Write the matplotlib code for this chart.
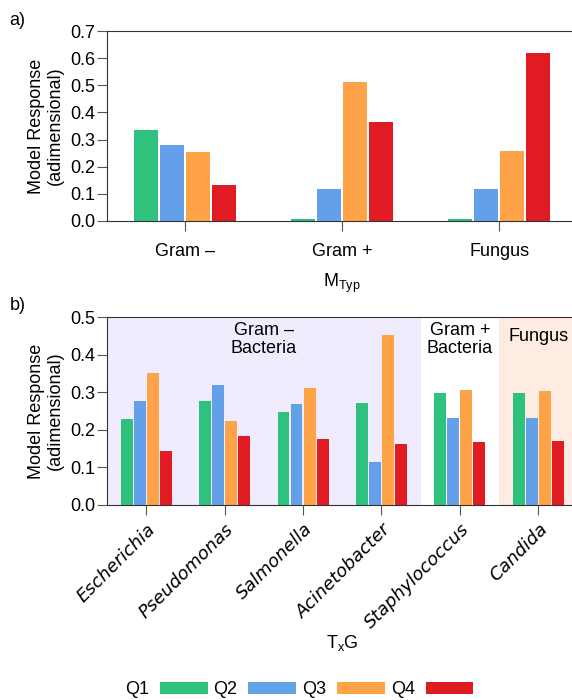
import matplotlib
matplotlib.use("Agg")
import matplotlib.pyplot as plt
import numpy as np
from matplotlib.patches import Patch

plt.rcParams['font.family'] = ['Liberation Sans', 'DejaVu Sans']
plt.rcParams['font.size'] = 13

# panel a: response by microorganism type
types = ["Gram \u2013", "Gram +", "Fungus"]
q1_typ = [0.335, 0.006, 0.006]
q2_typ = [0.280, 0.118, 0.118]
q3_typ = [0.254, 0.512, 0.258]
q4_typ = [0.133, 0.365, 0.619]

# panel b: response by genus
genera = ["Escherichia", "Pseudomonas", "Salmonella", "Acinetobacter",
          "Staphylococcus", "Candida"]
q1_gen = [0.229, 0.277, 0.247, 0.271, 0.298, 0.298]
q2_gen = [0.277, 0.319, 0.269, 0.114, 0.231, 0.231]
q3_gen = [0.351, 0.223, 0.311, 0.452, 0.306, 0.303]
q4_gen = [0.144, 0.184, 0.176, 0.162, 0.168, 0.170]

quartiles = ["Q1", "Q2", "Q3", "Q4"]
colors = ["#2ec27e", "#62a0ea", "#ffa348", "#e01b24"]

step = 0.166
bar_w = step * 0.92
spine_col = "#333333"


def grouped_bars(ax, series, n):
    x = np.arange(n)
    for i, vals in enumerate(series):
        ax.bar(x + (i - 1.5) * step, vals, width=bar_w, color=colors[i],
               linewidth=0, zorder=2)
    ax.set_xlim(-0.5, n - 0.5)
    ax.set_xticks(x)
    ax.spines['right'].set_visible(False)
    for s in ['left', 'top', 'bottom']:
        ax.spines[s].set_color(spine_col)
        ax.spines[s].set_zorder(3)
    ax.tick_params(axis='x', length=7, pad=9, color='#555555')
    ax.tick_params(axis='y', length=7, pad=1.5, color='#555555')
    ax.set_ylabel("Model Response\n(adimensional)", labelpad=4.5,
                  linespacing=1.1)


fig = plt.figure(figsize=(5.72, 7.0), dpi=100)
ax1 = fig.add_axes([0.187, 0.6843, 0.8226, 0.2714])
ax2 = fig.add_axes([0.187, 0.2786, 0.8226, 0.2685])

grouped_bars(ax1, [q1_typ, q2_typ, q3_typ, q4_typ], len(types))
ax1.set_ylim(0, 0.7)
ax1.set_yticks(np.arange(0, 0.71, 0.1))
ax1.set_xticklabels(types)
ax1.set_xlabel("M$_\\mathregular{Typ}$", labelpad=8)

# shaded groups behind the genus bars
ax2.axvspan(-0.5, 3.5, color="#f0ecfd", zorder=0, linewidth=0)
ax2.axvspan(4.5, 5.5, color="#feebe1", zorder=0, linewidth=0)
grouped_bars(ax2, [q1_gen, q2_gen, q3_gen, q4_gen], len(genera))
ax2.set_ylim(0, 0.5)
ax2.set_yticks(np.arange(0, 0.51, 0.1))
ax2.tick_params(axis='x', pad=4)
ax2.set_xticklabels(genera, rotation=45, ha='right', rotation_mode='anchor',
                    style='italic', family='DejaVu Sans')
ax2.set_xlabel("T$_\\mathregular{x}$G", labelpad=0.5)
ax2.text(1.5, 0.44, "Gram \u2013\nBacteria", ha='center', va='center',
         linespacing=1.1)
ax2.text(4.0, 0.44, "Gram +\nBacteria", ha='center', va='center',
         linespacing=1.1)
ax2.text(5.0, 0.448, "Fungus", ha='center', va='center')

fig.text(0.017, 0.971, "a)", ha='left', va='center')
fig.text(0.017, 0.563, "b)", ha='left', va='center')

handles = [Patch(facecolor=c, linewidth=0) for c in colors]
fig.legend(handles, quartiles, loc='center', bbox_to_anchor=(0.523, 0.0143),
           ncol=4, frameon=False, markerfirst=False, handlelength=2.65,
           handleheight=0.6, handletextpad=0.6, columnspacing=0.33)

fig.savefig("out.png", dpi=100)
